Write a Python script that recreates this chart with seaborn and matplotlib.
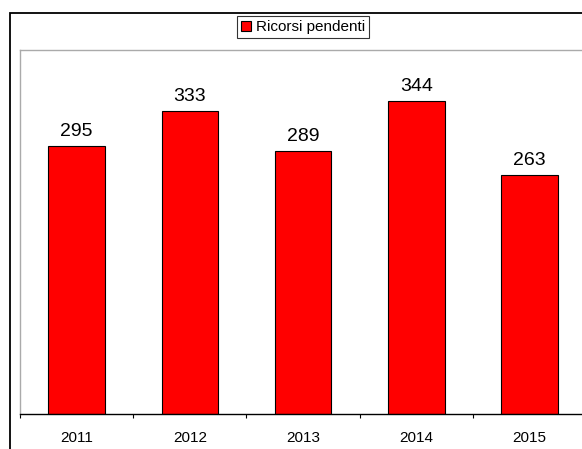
import matplotlib
matplotlib.use("Agg")
import matplotlib.pyplot as plt
import seaborn as sns
import pandas as pd
from matplotlib.patches import Patch, Rectangle

years = ["2011", "2012", "2013", "2014", "2015"]
values = [295, 333, 289, 344, 263]
series_name = "Ricorsi pendenti"

sns.set_style("white")
plt.rcParams["font.family"] = ["Liberation Sans", "DejaVu Sans"]
plt.rcParams["text.color"] = "black"
plt.rcParams["xtick.color"] = "black"
plt.rcParams["xtick.labelcolor"] = "black"

df = pd.DataFrame({"anno": years, "valore": values})

W, H = 582, 449
fig = plt.figure(figsize=(W / 100, H / 100), dpi=100)
ax = fig.add_axes([20 / W, (H - 414) / H, 566 / W, 364 / H])

sns.barplot(data=df, x="anno", y="valore", order=years, color="#FF0000",
            saturation=1, width=0.5, edgecolor="black", linewidth=0.8, ax=ax)

ax.set_xlim(-0.5, len(years) - 0.5)
ax.set_ylim(0, 400)
ax.set_xlabel("")
ax.set_ylabel("")
ax.set_yticks([])

ax.set_xticks(range(len(years)))
ax.set_xticklabels(years, fontsize=11, color="black")
ax.set_xticks([i - 0.5 for i in range(len(years) + 1)], minor=True)
ax.tick_params(axis="x", which="major", length=0, pad=12)
ax.tick_params(axis="x", which="minor", length=3, width=0.8, color="black", direction="out", bottom=True)

for s in ["left", "top"]:
    ax.spines[s].set_color("#aaaaaa")
    ax.spines[s].set_linewidth(1.0)
ax.spines["right"].set_visible(False)
ax.spines["bottom"].set_color("black")
ax.spines["bottom"].set_linewidth(1.0)

for i, v in enumerate(values):
    ax.annotate(str(v), (i, v), xytext=(0, 7), textcoords="offset points",
                ha="center", va="baseline", fontsize=14, color="black")

# outer chart frame
fig.patches.append(Rectangle((10 / W, -0.2), 1.2, (H - 13) / H + 0.2,
                             transform=fig.transFigure, fill=False,
                             edgecolor="black", linewidth=1.3))

leg = fig.legend(handles=[Patch(facecolor="#FF0000", edgecolor="black", linewidth=0.8, label=series_name)],
                 loc="center", bbox_to_anchor=(303 / W, 1 - 27 / H),
                 fontsize=11, frameon=True, fancybox=False, handlelength=0.65,
                 handleheight=0.65, handletextpad=0.35, borderpad=0.25,
                 borderaxespad=0)
leg.get_frame().set_edgecolor("black")
leg.get_frame().set_linewidth(0.8)
for t in leg.get_texts():
    t.set_color("black")

fig.savefig("out.png", dpi=100)
